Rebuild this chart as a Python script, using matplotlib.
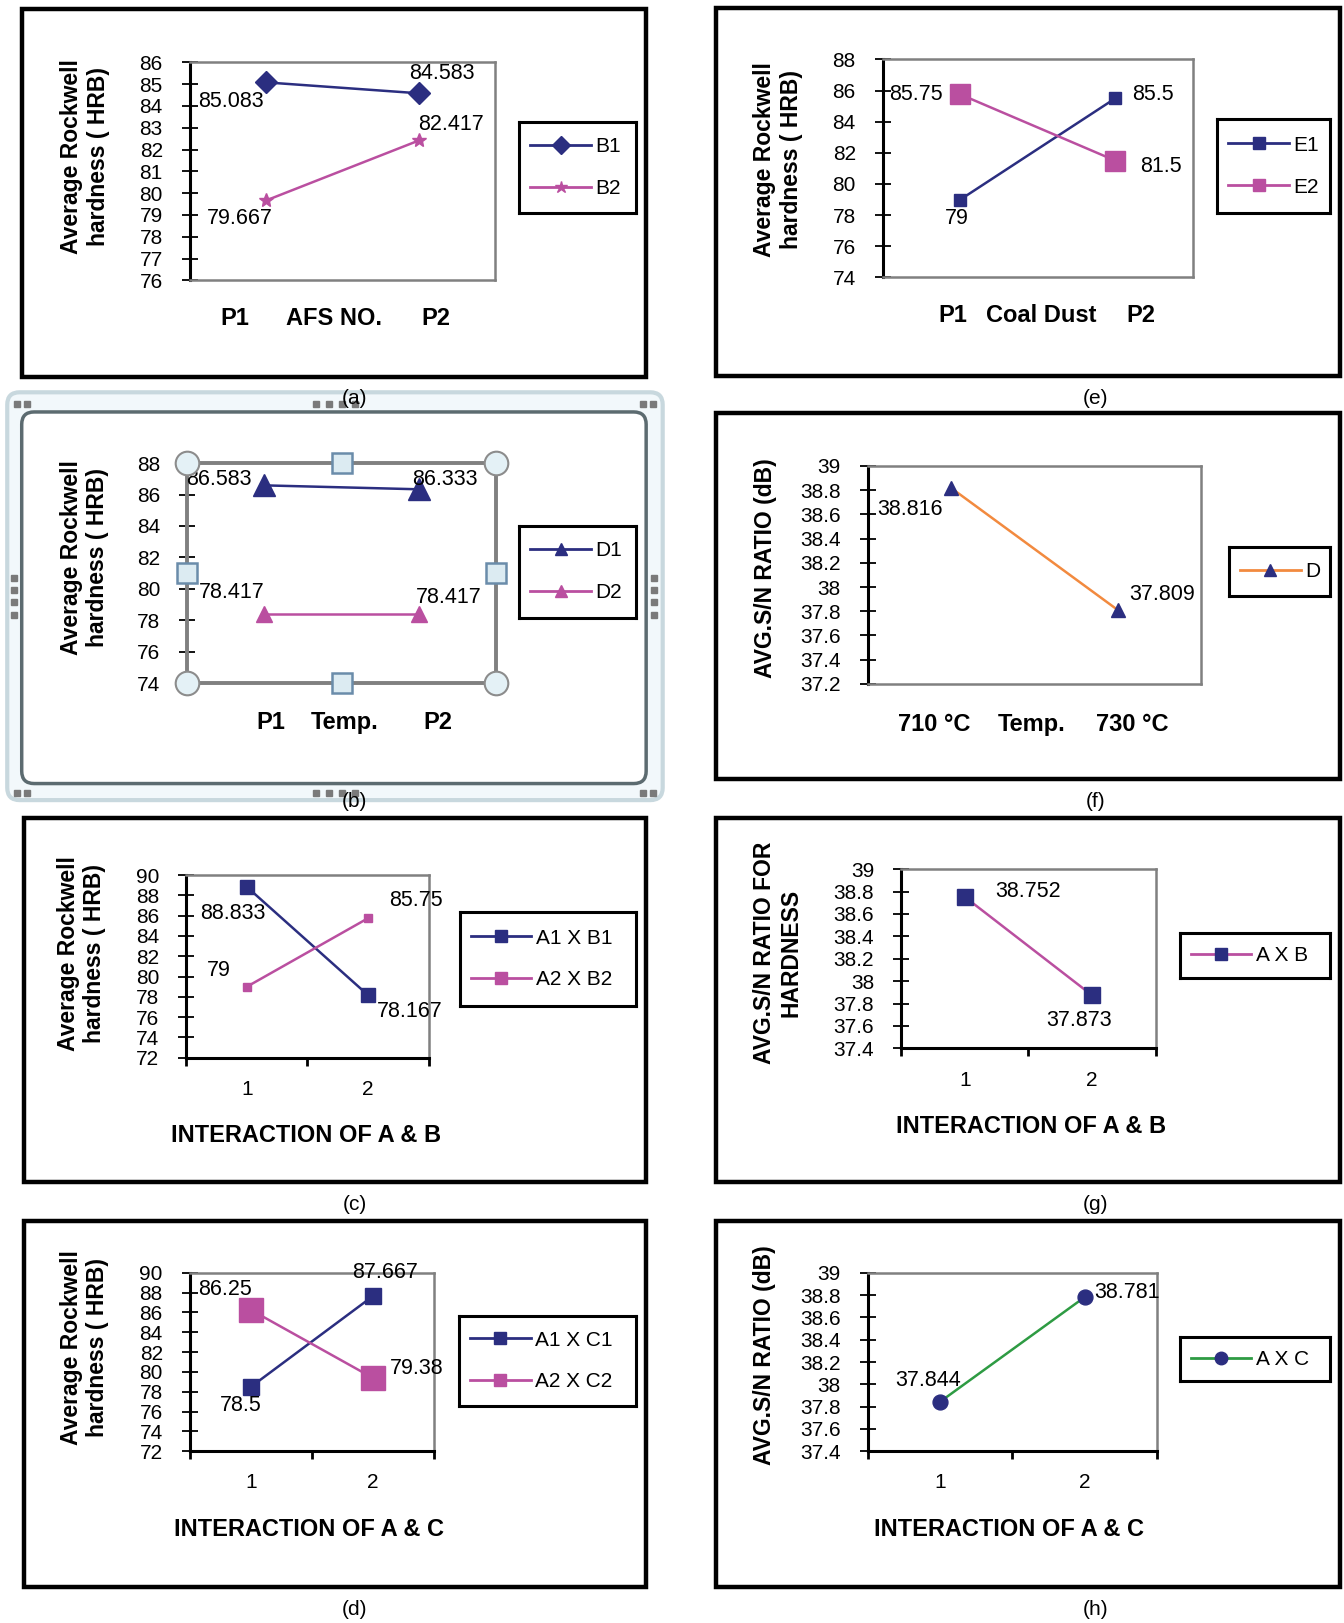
import numpy as np
import matplotlib
matplotlib.use("Agg")
import matplotlib.pyplot as plt
from matplotlib.lines import Line2D
from matplotlib.patches import Rectangle, FancyBboxPatch

plt.rcParams['font.family'] = ['Liberation Sans', 'DejaVu Sans']

# ---- values ----
levels = [1, 2]

afs_b1 = [85.083, 84.583]        # (a) AFS NO.
afs_b2 = [79.667, 82.417]
coal_e1 = [79, 85.5]             # (e) Coal Dust
coal_e2 = [85.75, 81.5]
temp_d1 = [86.583, 86.333]       # (b) Temp.
temp_d2 = [78.417, 78.417]
temp_sn = [38.816, 37.809]       # (f) S/N ratio vs temp
ab_a1b1 = [88.833, 78.167]       # (c) interaction A & B
ab_a2b2 = [79, 85.75]
ab_sn = [38.752, 37.873]         # (g)
ac_a1c1 = [78.5, 87.667]         # (d) interaction A & C
ac_a2c2 = [86.25, 79.38]
ac_sn = [37.844, 38.781]         # (h)

NAVY = '#2B2E80'
PINK = '#BA4FA0'
ORANGE = '#F28A3F'
GREEN = '#2E9B43'
GRAY = '#808080'

HARD = 'Average Rockwell\nhardness ( HRB)'
SN = 'AVG.S/N RATIO (dB)'

# layout grid units (scaled to the 1344x1623 output)
W, H = 1300, 1568
PX = 1344 / W

fig = plt.figure(figsize=(13.44, 16.23), dpi=100)
bg = fig.add_axes([0, 0, 1, 1], zorder=-5)
bg.set_xlim(0, W)
bg.set_ylim(H, 0)
bg.axis('off')


def box_axes(x0, y0, x1, y1):
    return fig.add_axes([x0 / W, 1 - y1 / H, (x1 - x0) / W, (y1 - y0) / H])


def chart(box, ylim, step, cat_ticks=False):
    ax = box_axes(*box)
    ax.set_xlim(0.5, 2.5)
    ax.set_ylim(*ylim)
    ticks = np.round(np.arange(ylim[0], ylim[1] + step / 2, step), 1)
    ax.set_yticks(ticks)
    ax.set_yticklabels([f'{t:g}' for t in ticks])
    ax.tick_params(axis='y', direction='inout', length=12, width=1.3,
                   labelsize=15, pad=13.5)
    for s in ['top', 'right']:
        ax.spines[s].set_color(GRAY)
        ax.spines[s].set_linewidth(1.8)
    ax.spines['left'].set_color('black')
    ax.spines['left'].set_linewidth(2.2)
    if cat_ticks:
        ax.spines['bottom'].set_color('black')
        ax.spines['bottom'].set_linewidth(2.2)
        ax.set_xticks([0.5, 1.5, 2.5])
        ax.set_xticklabels([])
        ax.tick_params(axis='x', which='major', direction='out', length=6, width=2)
        ax.set_xticks(levels, minor=True)
        ax.set_xticklabels([str(l) for l in levels], minor=True)
        ax.tick_params(axis='x', which='minor', length=0, labelsize=15, pad=16)
    else:
        ax.spines['bottom'].set_color(GRAY)
        ax.spines['bottom'].set_linewidth(1.8)
        ax.set_xticks([])
    return ax


def series(ax, values, color, marker, ms, mcolor=None):
    mcolor = mcolor or color
    line, = ax.plot(levels, values, color=color, lw=1.8, marker=marker, ms=ms,
                    mfc=mcolor, mec=mcolor, clip_on=False, zorder=3)
    return line


def value_labels(ax, values, offsets, fs=15.5):
    for x, v, (dx, dy) in zip(levels, values, offsets):
        ax.annotate(f'{v:g}', (x, v), xytext=(dx * PX, -dy * PX),
                    textcoords='offset pixels', ha='center', va='center',
                    fontsize=fs, annotation_clip=False, zorder=4)


def legend_box(box, lines, labels):
    lax = box_axes(*box)
    lax.set_xticks([])
    lax.set_yticks([])
    for s in lax.spines.values():
        s.set_linewidth(2.2)
        s.set_color('black')
    handles = [Line2D([], [], color=l.get_color(), lw=2, marker=l.get_marker(),
                      ms=9, mfc=l.get_markerfacecolor(), mec=l.get_markeredgecolor())
               for l in lines]
    lax.legend(handles, labels, loc='center left', frameon=False, fontsize=15,
               handlelength=2.9, handletextpad=0.2, labelspacing=1.1,
               borderaxespad=0.55, borderpad=0)


def frame(x0, y0, x1, y1):
    bg.add_patch(Rectangle((x0, y0), x1 - x0, y1 - y0, fill=False, ec='black', lw=3.2))


def ytitle(x, y, s):
    bg.text(x, y, s, rotation=90, ha='center', va='center', fontsize=16.5,
            fontweight='bold', multialignment='center')


def xtitle(x, y, s):
    bg.text(x, y, s, ha='center', va='center', fontsize=17, fontweight='bold')


def caption(x, y, s):
    bg.text(x, y, s, ha='center', va='center', fontsize=15)


# ---------- (a) AFS NO. ----------
frame(21, 9, 625, 364)
ax = chart((183.7, 60.3, 479, 270.8), (76, 86), 1)
la1 = series(ax, afs_b1, NAVY, 'D', 10.7)
la2 = series(ax, afs_b2, PINK, '*', 10)
value_labels(ax, afs_b1, [(-34.5, 18.2), (22.4, -19.4)])
value_labels(ax, afs_b2, [(-25.5, 17.4), (31.3, -15.7)])
legend_box((502, 118, 615, 206), [la1, la2], ['B1', 'B2'])
ytitle(82.3, 151.5, HARD)
for x, s in zip([227, 323, 421.5], ['P1', 'AFS NO.', 'P2']):
    xtitle(x, 307.6, s)
caption(343, 385, '(a)')

# ---------- (e) Coal Dust ----------
frame(693, 8, 1296, 363)
ax = chart((854, 57.4, 1153.7, 268), (74, 88), 2)
le1 = series(ax, coal_e1, NAVY, 's', 8.6)
le2 = series(ax, coal_e2, PINK, 's', 15)
value_labels(ax, coal_e1, [(-3.4, 18.2), (36.2, -3.8)])
value_labels(ax, coal_e2, [(-43.4, 0), (44.2, 6)])
legend_box((1177, 115, 1286, 206), [le1, le2], ['E1', 'E2'])
ytitle(752.4, 153.8, HARD)
for x, s in zip([922, 1006.7, 1103.5], ['P1', 'Coal Dust', 'P2']):
    xtitle(x, 304.6, s)
caption(1060, 385, '(e)')

# ---------- (b) Temp. (chart shown selected) ----------
bg.add_patch(FancyBboxPatch((7, 379), 634, 394, boxstyle='round,pad=0,rounding_size=12',
                            ec='#C8D8DE', fc='#F2F8FB', lw=3))
bg.add_patch(FancyBboxPatch((21, 398), 604, 359, boxstyle='round,pad=0,rounding_size=12',
                            ec='#5C6B70', fc='white', lw=2.5))
dots_x = [306, 318, 331, 343]
dots_y = [558, 570, 582, 594]
bg.plot(dots_x, [390] * 4, 's', color='#7A7A7A', ms=4)
bg.plot(dots_x, [766] * 4, 's', color='#7A7A7A', ms=4)
bg.plot([14] * 4, dots_y, 's', color='#7A7A7A', ms=4)
bg.plot([633] * 4, dots_y, 's', color='#7A7A7A', ms=4)
for cx, cy in [(16, 390), (26, 390), (622, 390), (632, 390),
               (16, 766), (26, 766), (622, 766), (632, 766)]:
    bg.plot(cx, cy, 's', color='#7A7A7A', ms=4)

ax = chart((181, 447.4, 480, 660), (74, 88), 2)
for s in ax.spines.values():
    s.set_color(GRAY)
    s.set_linewidth(2.8)
ld1 = series(ax, temp_d1, NAVY, '^', 16)
ld2 = series(ax, temp_d2, PINK, '^', 11.5)
value_labels(ax, temp_d1, [(-44, -6), (24.8, -9.7)])
value_labels(ax, temp_d2, [(-32, -21), (28.8, -16)])
# selection handles on the plot area
ax.plot([0, 1, 0, 1], [0, 0, 1, 1], 'o', transform=ax.transAxes, ms=17,
        mfc='#E4F1F6', mec='#8C8C8C', mew=1.5, clip_on=False, zorder=5)
ax.plot([0.5, 0.5, 0, 1], [0, 1, 0.5, 0.5], 's', transform=ax.transAxes, ms=14,
        mfc='#DCEBF2', mec='#6A8CAA', mew=1.8, clip_on=False, zorder=5)
legend_box((502, 508, 615, 597), [ld1, ld2], ['D1', 'D2'])
ytitle(81.9, 539, HARD)
for x, s in zip([262, 333, 424], ['P1', 'Temp.', 'P2']):
    xtitle(x, 698, s)
caption(343, 774, '(b)')

# ---------- (f) S/N vs Temp. ----------
frame(693, 399, 1296, 753)
ax = chart((839.5, 450, 1162, 660.8), (37.2, 39), 0.2)
lf = series(ax, temp_sn, ORANGE, '^', 10.6, mcolor=NAVY)
value_labels(ax, temp_sn, [(-40.3, 21), (42.6, -15)])
legend_box((1188.5, 528.6, 1286, 575.4), [lf], ['D'])
ytitle(740.6, 548.8, SN)
for x, s in zip([903.9, 998, 1095.5], ['710 °C', 'Temp.', '730 °C']):
    xtitle(x, 699.5, s)
caption(1060, 774, '(f)')

# ---------- (c) interaction A & B ----------
frame(23, 790, 625, 1142)
ax = chart((180.3, 845.5, 414.5, 1021.8), (72, 90), 2, cat_ticks=True)
lc1 = series(ax, ab_a1b1, NAVY, 's', 10.6)
lc2 = series(ax, ab_a2b2, PINK, 's', 6.3)
value_labels(ax, ab_a1b1, [(-13.2, 26), (40.5, 16.2)])
value_labels(ax, ab_a2b2, [(-26.9, -15.2), (46.6, -16.8)])
legend_box((444.5, 881, 615, 972), [lc1, lc2], ['A1 X B1', 'A2 X B2'])
ytitle(79, 921.6, HARD)
xtitle(296.5, 1097, 'INTERACTION OF A & B')
caption(343, 1164, '(c)')

# ---------- (g) S/N for A x B ----------
frame(693, 790, 1296, 1142)
ax = chart((871.6, 839.7, 1118, 1012.8), (37.4, 39), 0.2, cat_ticks=True)
lg = series(ax, ab_sn, PINK, 's', 11, mcolor=NAVY)
value_labels(ax, ab_sn, [(60.8, -4.9), (-12.4, 24.4)])
legend_box((1141, 901, 1286, 945), [lg], ['A X B'])
ytitle(752, 921, 'AVG.S/N RATIO FOR\nHARDNESS')
xtitle(997, 1088, 'INTERACTION OF A & B')
caption(1060, 1164, '(g)')

# ---------- (d) interaction A & C ----------
frame(23, 1180, 625, 1533)
ax = chart((183.7, 1229.7, 420, 1402), (72, 90), 2, cat_ticks=True)
ld_1 = series(ax, ac_a1c1, NAVY, 's', 11)
ld_2 = series(ax, ac_a2c2, PINK, 's', 17)
value_labels(ax, ac_a1c1, [(-9.6, 18.2), (12, -22.3)])
value_labels(ax, ac_a2c2, [(-24.9, -19.8), (42, -8.9)])
legend_box((443.8, 1271, 615, 1358.7), [ld_1, ld_2], ['A1 X C1', 'A2 X C2'])
ytitle(81.9, 1302, HARD)
xtitle(298.7, 1477.6, 'INTERACTION OF A & C')
caption(343, 1555, '(d)')

# ---------- (h) S/N for A x C ----------
frame(693, 1180, 1296, 1533)
ax = chart((839.6, 1229.7, 1118.8, 1402), (37.4, 39), 0.2, cat_ticks=True)
lh = series(ax, ac_sn, GREEN, 'o', 10.7, mcolor=NAVY)
value_labels(ax, ac_sn, [(-12, -20.7), (41.5, -4.3)])
legend_box((1141, 1292, 1286, 1334.5), [lh], ['A X C'])
ytitle(739.7, 1309, SN)
xtitle(976.2, 1477.6, 'INTERACTION OF A & C')
caption(1060, 1555, '(h)')

fig.savefig('out.png', dpi=100, facecolor='white')
